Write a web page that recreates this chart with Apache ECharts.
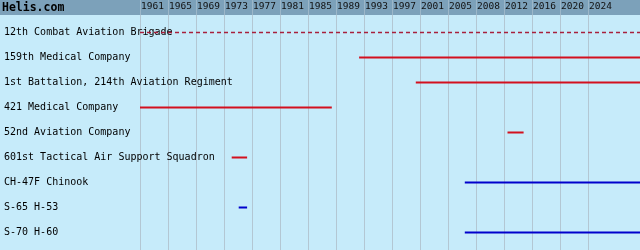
<!DOCTYPE html>
<html>
<head>
<meta charset="utf-8">
<script src="https://cdn.jsdelivr.net/npm/echarts@6/dist/echarts.min.js"></script>
<style>
html,body{margin:0;padding:0;background:#c6ebfa;}
#c{width:640px;height:250px;}
</style>
</head>
<body>
<div id="c"></div>
<script>
// ---- data ----
const siteTitle = 'Helis.com';
const tickLabels = ['1961','1965','1969','1973','1977','1981','1985','1989','1993','1997','2001','2005','2008','2012','2016','2020','2024'];
const rowNames = [
  '12th Combat Aviation Brigade',
  '159th Medical Company',
  '1st Battalion, 214th Aviation Regiment',
  '421 Medical Company',
  '52nd Aviation Company',
  '601st Tactical Air Support Squadron',
  'CH-47F Chinook',
  'S-65 H-53',
  'S-70 H-60'
];
const startYears = [1961, 1992.3, 2000.4, 1961, 2013.5, 1974.1, 2007.4, 1975.1, 2007.4];
const endYears   = [null, null, null, 1988.4, 2015.8, 1976.3, null, 1976.3, null]; // null = still active
const rowKinds   = ['planned', 'unit', 'unit', 'unit', 'unit', 'unit', 'type', 'type', 'type'];

// ---- config ----
const axisStart = 1961, tickStep = 4, labelEnd = 2025;
const dataEnd = axisStart + 500 / 7;
const font = 'DejaVu Sans Mono';
const kindStyle = {
  planned: {color: '#a8203c', width: 1.5, type: [4, 3]},
  unit: {color: '#d3101e', width: 2, type: 'solid'},
  type: {color: '#0000cc', width: 2, type: 'solid'}
};

const series = rowNames.map((name, i) => {
  const st = kindStyle[rowKinds[i]];
  const end = endYears[i] === null ? dataEnd + 1 : endYears[i];
  return {
    type: 'line', xAxisIndex: 2, yAxisIndex: 2,
    symbol: 'none', silent: true, animation: false,
    lineStyle: {color: st.color, width: st.width, type: st.type},
    data: [[startYears[i], name], [end, name]]
  };
});

const chart = echarts.init(document.getElementById('c'), null, {renderer: 'canvas'});
chart.setOption({
  animation: false,
  backgroundColor: 'transparent',
  title: {
    text: siteTitle, left: 2, top: 2, padding: 0,
    textStyle: {fontFamily: font, fontWeight: 'bold', fontSize: 11.5, color: '#000'}
  },
  grid: [
    {left: 0, right: 0, top: 0, height: 15, show: true, backgroundColor: '#7ca1ba', borderWidth: 0},
    {left: 140, right: 52, top: 15, bottom: 0, show: false},
    {left: 140, right: 0, top: 20, bottom: 5, show: false},
    {left: 140, right: 52, top: 0, height: 15, show: false}
  ],
  xAxis: [
    {gridIndex: 0, type: 'value', min: 0, max: 1, show: false},
    {gridIndex: 1, type: 'value', min: axisStart, max: labelEnd, interval: tickStep,
     axisLine: {show: false}, axisTick: {show: false}, axisLabel: {show: false},
     splitLine: {show: true, lineStyle: {color: '#b3c7d3', width: 1}}},
    {gridIndex: 2, type: 'value', min: axisStart, max: dataEnd, show: false},
    {gridIndex: 3, type: 'value', min: axisStart, max: labelEnd, interval: tickStep, position: 'top',
     axisLine: {show: false}, axisTick: {show: false},
     splitLine: {show: true, lineStyle: {color: '#9cb7c9', width: 1}},
     axisLabel: {show: true, inside: true, margin: 2, align: 'left', verticalAlign: 'top',
       showMinLabel: true, showMaxLabel: true, padding: [0, 0, 0, 1],
       fontFamily: font, fontSize: 9.5, color: '#111',
       formatter: v => tickLabels[Math.round((v - axisStart) / tickStep)] || ''}}
  ],
  yAxis: [
    {gridIndex: 0, type: 'value', show: false},
    {gridIndex: 1, type: 'value', show: false},
    {gridIndex: 2, type: 'category', data: rowNames, inverse: true,
     axisLine: {show: false}, axisTick: {show: false}, splitLine: {show: false},
     axisLabel: {show: true, align: 'left', margin: 136, fontFamily: font, fontSize: 10, color: '#000'}},
    {gridIndex: 3, type: 'value', show: false}
  ],
  series: series
});
</script>
</body>
</html>
